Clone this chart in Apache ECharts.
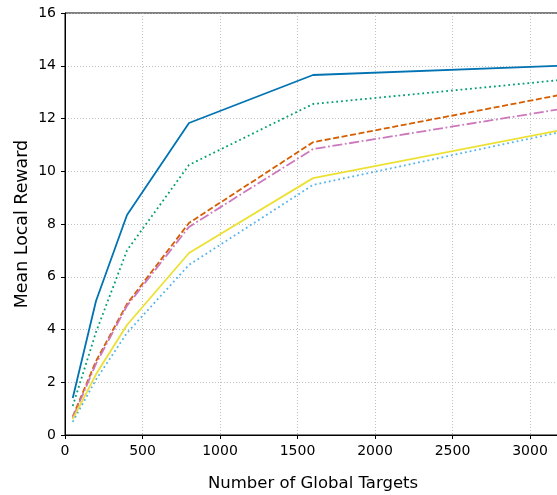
<!DOCTYPE html>
<html><head><meta charset="utf-8">
<script src="https://cdn.jsdelivr.net/npm/echarts@6/dist/echarts.min.js"></script>
<style>html,body{margin:0;padding:0;background:#fff}#c{width:557px;height:495px}</style>
</head><body><div id="c"></div>
<script>
const xValues = [50, 200, 400, 800, 1600, 3200];
const seriesA = [1.4, 5.08, 8.34, 11.83, 13.65, 14.0];
const seriesB = [1.1, 3.9, 7.0, 10.24, 12.55, 13.46];
const seriesC = [0.7, 2.8, 4.97, 8.04, 11.1, 12.9];
const seriesD = [0.65, 2.7, 4.9, 7.89, 10.84, 12.36];
const seriesE = [0.6, 2.3, 4.17, 6.9, 9.74, 11.56];
const seriesF = [0.5, 2.1, 3.87, 6.45, 9.48, 11.49];
const xTicks = [0, 500, 1000, 1500, 2000, 2500, 3000];
const yTicks = [0, 2, 4, 6, 8, 10, 12, 14, 16];

const defs = [
  {d: seriesA, c: '#0173b2', t: 'solid'},
  {d: seriesB, c: '#029e73', t: [1.8, 3]},
  {d: seriesC, c: '#d55e00', t: [6, 2.6]},
  {d: seriesD, c: '#cc78bc', t: [10, 2.6, 1.8, 2.6]},
  {d: seriesE, c: '#ece133', t: 'solid'},
  {d: seriesF, c: '#56b4e9', t: [1.8, 3]}
];
const font = 'DejaVu Sans';
const chart = echarts.init(document.getElementById('c'), null, {renderer: 'canvas'});
chart.setOption({
  animation: false,
  grid: {left: 65, top: 13, right: -4, bottom: 60, show: true, borderColor: '#000', borderWidth: 1,
    containLabel: false, outerBoundsMode: 'none'},
  xAxis: {
    type: 'value', min: 0, max: 3200, interval: 500,
    name: 'Number of Global Targets', nameLocation: 'middle', nameGap: 40, nameMoveOverlap: false,
    nameTextStyle: {fontFamily: font, fontSize: 16.5, color: '#000'},
    axisLine: {show: true, lineStyle: {color: '#000', width: 1}},
    axisTick: {show: true, length: 4, lineStyle: {color: '#000'}},
    axisLabel: {fontFamily: font, fontSize: 14, color: '#000', margin: 9, hideOverlap: false,
      showMaxLabel: false, formatter: v => xTicks.includes(v) ? String(v) : ''},
    splitLine: {show: true, lineStyle: {color: '#b0b0b0', type: [1, 2], width: 0.8}}
  },
  yAxis: {
    type: 'value', min: 0, max: 16, interval: 2,
    name: 'Mean Local Reward', nameLocation: 'middle', nameGap: 34, nameMoveOverlap: false,
    nameTextStyle: {fontFamily: font, fontSize: 17.4, color: '#000'},
    axisLine: {show: true, lineStyle: {color: '#000', width: 1}},
    axisTick: {show: true, length: 4, lineStyle: {color: '#000'}},
    axisLabel: {fontFamily: font, fontSize: 14, color: '#000', margin: 9, hideOverlap: false,
      formatter: v => yTicks.includes(v) ? String(v) : ''},
    splitLine: {show: true, lineStyle: {color: '#b0b0b0', type: [1, 2], width: 0.8}}
  },
  series: defs.map(s => ({
    type: 'line', symbol: 'none', silent: true,
    data: xValues.map((x, i) => [x, s.d[i]]),
    lineStyle: {color: s.c, width: 1.8, type: s.t}
  }))
});
</script></body></html>
